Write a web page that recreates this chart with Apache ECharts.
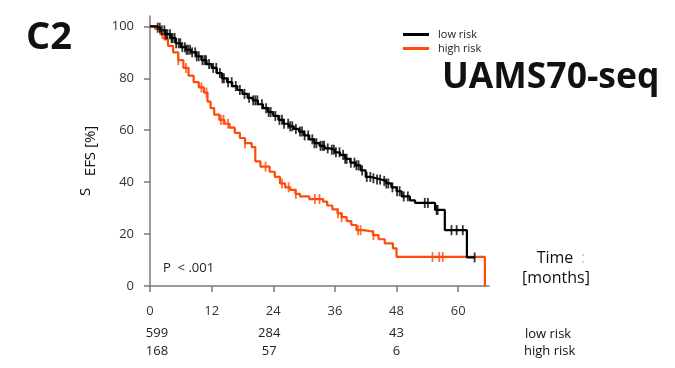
<!DOCTYPE html>
<html>
<head>
<meta charset="utf-8">
<script src="https://cdn.jsdelivr.net/npm/echarts@6/dist/echarts.min.js"></script>
<style>
html,body{margin:0;padding:0;background:#fff;}
#chart{width:675px;height:368px;}
</style>
</head>
<body>
<div id="chart"></div>
<script>
// ---- Data ----
var seriesNames = ['low risk', 'high risk'];
var xTicks = [0, 12, 24, 36, 48, 60];
var yTicks = [0, 20, 40, 60, 80, 100];

// Kaplan-Meier step points: time (months), EFS (%) after the step
var lowT = [0, 1.2, 2, 3, 4, 5, 6, 7, 8, 9, 10, 11, 12, 13, 14, 15, 16, 17, 18, 19, 20, 21, 22, 23, 24, 25, 26, 27, 28, 29, 30, 31, 32, 33, 34, 35, 36, 37, 38, 39, 40, 41, 42, 43, 44, 45, 46, 47, 48, 49, 50.6, 51.6, 55.5, 57.4, 61.7, 63.3];
var lowS = [100, 99.5, 98.5, 97, 95.5, 93.5, 92, 91, 90, 88.5, 87, 85.5, 84, 82, 80, 78.5, 77, 75.5, 74, 72.5, 71.5, 70, 68.5, 67, 65.5, 64, 62.5, 61.5, 60.5, 59.5, 58, 56.5, 55, 54, 53, 52.5, 51.5, 50.5, 49, 47.5, 46.5, 44.5, 42, 41.5, 41, 40.5, 39.5, 38, 36.5, 34.5, 33, 32, 29.3, 21.5, 11, 11];

var highT = [0, 1, 2, 2.8, 3.5, 4.5, 5.5, 6.5, 7.5, 8.5, 9.5, 10.5, 11.2, 11.8, 12.5, 13.5, 14.5, 15.5, 16.5, 17.5, 18.5, 19.8, 20.5, 21.5, 23.3, 24.3, 25.3, 26.3, 27.3, 28.3, 29.2, 31, 33.7, 34.5, 35.5, 36.5, 37.3, 38.3, 39.2, 40.2, 41.5, 43.4, 44.5, 45.7, 47.3, 48, 65.2, 65.2];
var highS = [100, 99, 97, 95, 92.5, 90, 87, 84, 81, 78.5, 76.5, 74.5, 71, 68.5, 66, 64, 62.5, 61, 59, 57, 55, 53.5, 48, 46, 44, 42, 39.5, 38, 37, 35.5, 34.5, 33.5, 32.5, 31, 29.5, 28, 26.5, 25, 23.5, 21.5, 21, 19.6, 18, 16.4, 14.5, 11.2, 11.2, 0];

// Censoring times (months)
var lowCens = [1.5, 1.9, 2.3, 2.8, 3.1, 3.4, 3.9, 4.2, 4.4, 4.8, 5.1, 5.6, 5.9, 6.3, 6.8, 7.1, 7.4, 7.8, 8.2, 8.8, 9.1, 9.5, 10.2, 10.6, 10.9, 11.5, 12.3, 12.9, 13.6, 14.1, 14.4, 15.2, 15.9, 16.7, 17.5, 18.4, 19.3, 20.1, 20.5, 20.9, 21.8, 22.6, 23.1, 23.5, 24.4, 25.2, 25.7, 26.1, 26.9, 27.3, 27.7, 28.4, 29.2, 29.6, 30.1, 30.8, 31.6, 32.0, 32.4, 33.2, 33.6, 33.9, 34.6, 35.4, 35.8, 36.2, 36.9, 37.6, 38.0, 38.3, 39.1, 39.8, 40.2, 40.6, 41.3, 42.2, 42.9, 43.5, 44.2, 44.8, 45.6, 46.0, 46.4, 47.2, 48.1, 48.6, 49.4, 50.2, 53.5, 54.1, 55.8, 56.0, 58.7, 59.7, 60.9, 63.2];
var highCens = [2.4, 5.5, 7.0, 10.0, 11.0, 13.8, 14.3, 15.2, 18.5, 22.5, 25.7, 27.0, 28.4, 32.1, 33.0, 36.6, 37.3, 40.5, 41.0, 43.5, 55.0, 56.3, 57.0];

// Numbers at risk
var riskTimes = [0, 24, 48];
var riskLow = ['599', '284', '43'];
var riskHigh = ['168', '57', '6'];

var RED = '#ff4a0a', BLACK = '#000000';

function zip(t, s) { return t.map(function (v, i) { return [v, s[i]]; }); }
function stepAt(t, s, x) {
  var v = s[0];
  for (var i = 0; i < t.length; i++) { if (t[i] <= x) v = s[i]; else break; }
  return v;
}
function censData(c, t, s) { return c.map(function (x) { return [x, stepAt(t, s, x)]; }); }

var chart = echarts.init(document.getElementById('chart'), null, {renderer: 'canvas'});
var gridLeft = 150, gridRight = 186, gridTop = 16, gridBottom = 82;

chart.setOption({
  animation: false,
  backgroundColor: '#ffffff',
  grid: {left: gridLeft, right: gridRight, top: gridTop, bottom: gridBottom, containLabel: false},
  legend: {
    data: [{name: seriesNames[0], icon: 'rect'}, {name: seriesNames[1], icon: 'rect'}],
    orient: 'vertical', left: 398, top: 24,
    itemWidth: 26, itemHeight: 3, itemGap: 3,
    textStyle: {fontFamily: 'Open Sans', fontSize: 11, color: '#222', padding: [0, 0, 0, 4]}
  },
  xAxis: {
    type: 'value', min: 0, max: 66, interval: 12,
    axisLine: {show: true, onZero: false, lineStyle: {color: '#7a7a7a', width: 1.5}},
    axisTick: {show: true, length: 6, inside: false, customValues: xTicks, lineStyle: {color: '#7a7a7a', width: 1.5}},
    axisLabel: {customValues: xTicks, margin: 19, fontFamily: 'Open Sans', fontSize: 13, color: '#333'},
    splitLine: {show: false}
  },
  yAxis: {
    type: 'value', min: 0, max: 104, interval: 20,
    axisLine: {show: true, onZero: false, lineStyle: {color: '#7a7a7a', width: 1.5}},
    axisTick: {show: true, length: 6, inside: false, customValues: yTicks, lineStyle: {color: '#7a7a7a', width: 1.5}},
    axisLabel: {customValues: yTicks, margin: 16, fontFamily: 'Open Sans', fontSize: 13, color: '#333'},
    splitLine: {show: false},
    name: 'EFS [%]', nameLocation: 'middle', nameRotate: 90, nameGap: 52,
    nameTextStyle: {fontFamily: 'Open Sans', fontSize: 15, color: '#111'}
  },
  series: [
    {name: seriesNames[0], type: 'line', step: 'end', data: zip(lowT, lowS), showSymbol: false,
     lineStyle: {color: BLACK, width: 2.2}, itemStyle: {color: BLACK}, z: 3},
    {name: seriesNames[1], type: 'line', step: 'end', data: zip(highT, highS), showSymbol: false,
     lineStyle: {color: RED, width: 2.2}, itemStyle: {color: RED}, z: 2},
    {name: 'low cens', type: 'scatter', data: censData(lowCens, lowT, lowS), symbol: 'rect', symbolSize: [1.8, 10],
     itemStyle: {color: BLACK}, z: 4},
    {name: 'high cens', type: 'scatter', data: censData(highCens, highT, highS), symbol: 'rect', symbolSize: [1.8, 10],
     itemStyle: {color: RED}, z: 3}
  ]
});

// positions for risk table derived from axis scale
function px(t) { return chart.convertToPixel({gridIndex: 0}, [t, 0])[0]; }
var g = [];
g.push({type: 'text', left: 26, top: 19, style: {text: 'C2', font: 'bold 38px "Open Sans"', fill: '#111'}});
g.push({type: 'text', left: 442, top: 60, style: {text: 'UAMS70-seq', font: 'bold 35.5px "Open Sans"', fill: '#111'}});
g.push({type: 'text', left: 163, top: 262, style: {text: 'P  < .001', font: '13px "Open Sans"', fill: '#222'}});
g.push({type: 'text', x: 86, y: 192, rotation: Math.PI / 2, style: {text: 'S', font: '15px "Open Sans"', fill: '#111', align: 'center', verticalAlign: 'middle'}});
g.push({type: 'text', x: 555, y: 258, style: {text: 'Time', font: '16px "Open Sans"', fill: '#111', align: 'center', verticalAlign: 'middle'}});
g.push({type: 'text', x: 583, y: 258, style: {text: ':', font: '16px "Open Sans"', fill: '#ccc', align: 'center', verticalAlign: 'middle'}});
g.push({type: 'text', x: 556, y: 278, style: {text: '[months]', font: '16px "Open Sans"', fill: '#111', align: 'center', verticalAlign: 'middle'}});
g.push({type: 'text', x: 525, y: 334, style: {text: 'low risk', font: '13px "Open Sans"', fill: '#111', verticalAlign: 'middle'}});
g.push({type: 'text', x: 524, y: 351, style: {text: 'high risk', font: '13px "Open Sans"', fill: '#111', verticalAlign: 'middle'}});
var offs = [7, -4, 0];
riskTimes.forEach(function (t, i) {
  var x = px(t) + offs[i];
  g.push({type: 'text', x: x, y: 333, style: {text: riskLow[i], font: '13px "Open Sans"', fill: '#222', align: 'center', verticalAlign: 'middle'}});
  g.push({type: 'text', x: x, y: 351, style: {text: riskHigh[i], font: '13px "Open Sans"', fill: '#222', align: 'center', verticalAlign: 'middle'}});
});
chart.setOption({graphic: g});
</script>
</body>
</html>
